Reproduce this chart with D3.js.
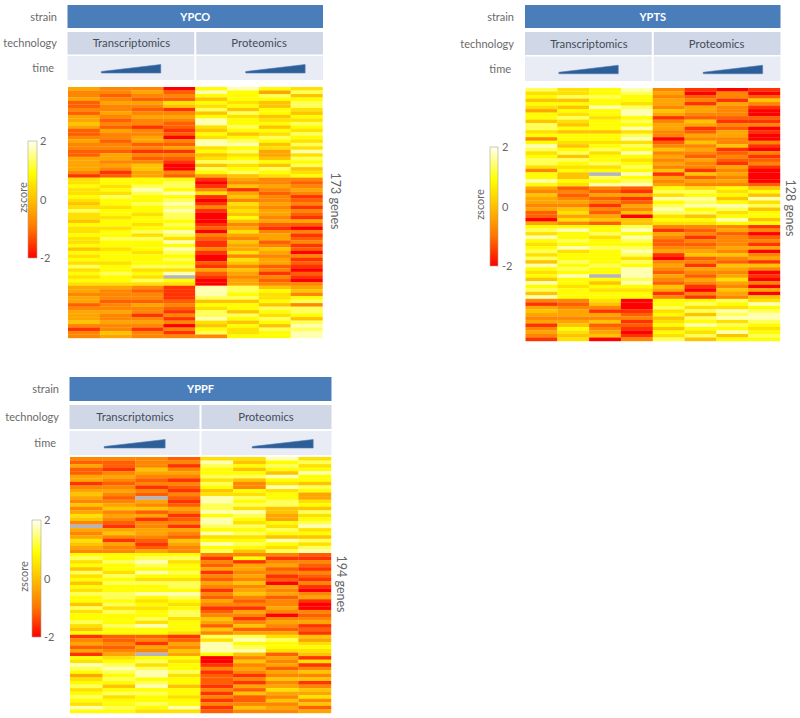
<!DOCTYPE html>
<html>
<head>
<meta charset="utf-8">
<script src="https://cdn.jsdelivr.net/npm/d3@7"></script>
<style>
  html, body { margin: 0; padding: 0; background: #fff; }
  text { font-family: Lato, "Noto Sans", sans-serif; }
</style>
</head>
<body>
<svg id="chart" width="800" height="718"></svg>
<script>
// z-score level of each visible band, 0 (z = -2) up to 9 (palest), null = missing (grey)
const ypcoT1 = [4,3,3,4,2,2,3,2,4,4,5,4,2,2,3,4,3,3,2,2,4,4,4,4,3,1,6,6,7,6,6,7,6,5,6,8,6,6,5,7,6,6,7,6,6,7,5,7,6,7,6,8,6,7,6,7,6,4,4,3,4,4,2,3,4,4,4,5,3,1,3,3];
const ypcoT2 = [3,3,2,3,4,3,3,4,3,2,3,2,4,3,3,2,3,3,2,4,4,3,4,3,1,2,7,7,6,7,6,8,7,7,6,7,7,6,7,7,6,7,7,8,7,7,6,7,7,7,6,7,7,8,7,7,6,4,3,3,3,2,3,3,4,3,3,4,3,3,5,4];
const ypcoT3 = [3,4,3,2,4,3,2,3,4,3,3,1,3,3,4,4,2,3,1,3,2,3,5,5,4,4,7,7,8,9,8,7,7,8,7,7,6,7,7,6,7,8,6,8,7,7,7,6,7,7,7,8,6,7,6,8,6,3,2,3,3,2,4,3,3,1,3,4,3,1,3,3];
const ypcoT4 = [0,2,3,2,6,5,1,3,4,3,2,2,1,2,0,3,2,4,1,3,2,1,0,0,3,2,7,8,8,7,9,7,8,9,8,9,8,8,7,8,7,9,8,6,9,7,9,8,7,8,7,8,6,9,null,7,6,1,1,1,1,2,3,2,1,3,1,3,0,3,1,3];
const ypcoP1 = [7,9,7,5,7,6,8,5,7,9,9,6,5,7,6,9,9,6,7,5,6,8,5,8,7,4,1,0,1,3,6,1,0,1,3,1,0,0,0,1,2,0,3,2,1,1,3,1,0,0,2,1,4,2,1,0,0,9,9,9,8,5,7,6,8,8,9,6,5,7,8,3];
const ypcoP2 = [9,7,7,7,6,7,5,8,6,7,7,8,7,5,7,8,9,7,8,6,7,8,6,7,8,5,4,3,5,1,4,5,3,6,5,6,5,7,5,3,4,6,4,3,5,4,4,6,3,6,5,3,5,4,3,4,4,8,8,7,8,5,7,7,5,8,7,5,7,6,6,7];
const ypcoP3 = [7,4,8,7,5,5,7,7,5,6,7,5,7,6,8,7,5,6,4,4,5,7,5,8,7,6,3,3,4,3,2,3,3,4,3,4,4,3,4,2,1,3,4,4,2,3,5,4,3,4,4,2,3,1,3,2,3,5,7,6,6,7,5,8,7,6,8,7,5,8,7,7];
const ypcoP4 = [6,8,5,7,8,8,6,5,7,6,8,7,6,8,7,6,8,6,9,6,8,7,8,5,6,7,3,2,3,4,3,1,2,3,1,3,2,1,4,2,0,3,1,2,3,1,2,0,3,1,2,1,0,2,1,0,3,4,5,3,7,8,3,8,8,7,5,8,9,8,9,9];

const yptsT1 = [8,6,7,5,7,6,4,7,7,5,8,8,6,7,3,7,9,8,6,7,8,8,6,3,7,7,9,7,4,3,5,4,4,3,4,2,2,0,4,7,8,6,9,7,6,7,8,6,8,5,9,7,6,7,5,9,7,8,5,9,3,1,4,5,4,3,4,1,3,4,3,1];
const yptsT2 = [6,6,8,5,7,5,7,6,8,6,5,7,5,7,7,6,5,7,8,5,8,7,6,7,5,5,7,6,2,3,2,3,4,3,5,6,4,6,3,7,9,7,7,8,7,9,6,7,7,8,7,8,7,9,7,7,6,7,7,7,3,2,3,4,4,3,4,5,7,6,5,6];
const yptsT3 = [7,7,8,7,7,9,7,7,6,7,7,7,5,7,7,6,7,8,6,7,7,8,6,7,null,8,7,9,3,2,4,2,3,1,3,2,4,5,2,7,7,8,6,7,7,8,7,7,7,7,8,7,7,null,7,5,7,6,7,7,6,5,3,1,4,3,5,2,3,4,5,0];
const yptsT4 = [9,8,7,7,6,8,9,9,7,8,7,9,6,8,9,6,8,7,9,7,6,7,8,7,9,7,8,9,2,1,4,1,2,4,3,5,0,5,5,8,9,7,9,8,7,8,9,8,6,8,7,9,9,9,8,9,7,6,7,7,0,0,0,1,2,3,1,2,1,0,1,3];
const yptsP1 = [3,4,3,4,4,3,5,4,1,3,4,4,3,3,0,2,3,5,3,4,3,4,3,5,1,4,3,4,7,8,6,9,7,8,9,8,6,7,6,3,1,4,3,2,2,3,4,1,0,3,4,3,2,4,3,2,5,4,1,3,7,7,8,6,7,5,6,7,5,7,6,8];
const yptsP2 = [1,0,2,3,1,4,4,3,2,5,4,1,2,4,3,5,3,4,3,2,4,3,3,1,5,2,4,3,6,8,7,9,8,9,7,8,5,7,6,3,2,3,1,3,2,3,4,5,2,3,1,4,3,2,4,3,1,0,3,1,7,8,6,8,5,8,7,9,7,6,8,5];
const yptsP3 = [0,3,3,1,4,3,3,3,2,1,3,2,4,4,3,3,5,1,2,3,2,1,4,3,4,3,4,3,7,6,7,5,7,9,8,6,7,9,7,3,4,2,3,3,3,4,3,5,3,2,5,4,3,4,6,4,3,5,4,3,8,7,6,9,8,9,6,8,7,9,5,7];
const yptsP4 = [1,0,2,5,3,1,0,0,2,1,3,0,1,0,0,3,1,0,3,1,2,3,1,0,0,0,0,2,5,7,5,9,6,8,5,7,7,5,7,1,3,0,2,3,1,4,0,3,4,1,5,3,0,1,0,3,0,4,0,5,6,9,7,8,9,9,8,7,6,7,8,7];

const yppfT1 = [3,2,4,2,2,4,4,1,3,4,5,4,3,5,3,4,6,5,3,null,4,3,4,6,5,4,3,7,8,6,7,5,8,6,7,5,7,6,8,7,7,5,8,6,7,7,8,6,5,7,1,3,4,2,4,1,7,6,9,8,7,4,6,7,8,6,7,8,7,6,9,7];
const yppfT2 = [3,2,2,1,3,4,3,2,3,4,3,2,3,4,5,3,4,3,2,1,4,5,3,1,4,3,3,7,7,8,7,7,6,8,7,8,7,7,8,8,7,8,6,8,7,7,7,8,7,7,2,2,3,2,3,4,6,7,8,9,8,7,8,7,5,7,8,6,7,7,8,7];
const yppfT3 = [3,3,3,5,4,3,2,3,1,3,2,null,4,3,5,2,4,1,3,3,4,4,3,2,1,2,4,7,8,9,8,7,9,7,6,8,7,7,9,7,6,7,6,7,7,8,6,9,7,7,2,3,1,4,3,null,7,8,6,8,9,9,7,8,9,7,8,7,7,8,7,6];
const yppfT4 = [2,3,1,3,4,3,1,3,2,1,3,2,1,2,4,3,1,2,3,1,4,3,2,5,4,3,3,7,8,6,7,7,8,7,6,8,8,7,9,8,7,6,7,8,8,6,7,7,7,6,1,2,4,3,5,4,7,6,7,7,8,6,7,7,5,7,7,6,7,7,9,6];
const yppfP1 = [6,9,8,7,7,8,6,8,7,5,6,9,9,8,8,9,7,9,9,8,7,9,6,7,9,7,8,3,1,3,2,4,1,3,2,4,3,1,3,2,4,3,1,2,3,5,4,2,5,3,8,6,9,9,9,7,0,0,1,3,1,2,2,2,1,3,1,3,1,3,1,2];
const yppfP2 = [6,5,7,5,7,8,5,3,3,7,6,8,7,8,6,9,8,7,6,8,7,8,6,7,8,7,5,3,7,1,4,4,3,4,3,5,3,4,5,3,2,3,1,4,3,1,3,5,2,4,8,9,7,8,9,5,3,5,3,4,3,1,3,1,4,2,5,2,2,3,5,3];
const yppfP3 = [9,7,8,7,5,9,7,6,9,6,7,7,8,8,5,5,4,4,7,6,8,7,5,9,7,6,8,3,1,3,4,2,3,1,2,0,4,3,4,2,3,3,4,3,0,3,4,3,2,4,6,8,7,7,6,2,4,3,4,2,4,3,5,3,4,6,4,3,5,3,4,3];
const yppfP4 = [6,8,6,7,9,7,7,5,8,7,4,4,6,7,5,8,6,7,8,9,6,7,5,8,6,8,9,2,1,3,2,1,3,2,1,3,1,0,3,4,1,0,0,3,2,3,4,1,2,1,5,4,6,7,6,5,1,6,1,3,5,3,5,1,3,5,4,6,3,5,2,4];

const technologies = ['Transcriptomics', 'Proteomics'];
const rowNames = ['strain', 'technology', 'time'];
const zTicks = [2, 0, -2];
const zStops = [-2, -1, 0, 0.9, 2];
const zColors = ['#ff0000', '#ff7400', '#ffc000', '#ffff00', '#fffff2'];

const panels = [
  {
    name: 'YPCO', genes: '173 genes', cols: [ypcoT1, ypcoT2, ypcoT3, ypcoT4, ypcoP1, ypcoP2, ypcoP3, ypcoP4],
    x0: 67.5, x1: 323, y: [5, 28, 32, 54.5, 56, 80, 87, 338],
    bar: [28, 37, 141, 258], zx: 23, genesX: 335, genesY: 201, rowLabelX: 57
  },
  {
    name: 'YPTS', genes: '128 genes', cols: [yptsT1, yptsT2, yptsT3, yptsT4, yptsP1, yptsP2, yptsP3, yptsP4],
    x0: 525, x1: 780.5, y: [5, 28, 32, 55, 56.5, 81, 88, 341],
    bar: [490, 498, 147, 266], zx: 480, genesX: 790, genesY: 208, rowLabelX: 514
  },
  {
    name: 'YPPF', genes: '194 genes', cols: [yppfT1, yppfT2, yppfT3, yppfT4, yppfP1, yppfP2, yppfP3, yppfP4],
    x0: 69.5, x1: 331.5, y: [377, 401, 405, 429, 431, 455, 457, 713],
    bar: [32, 41, 520, 637], zx: 24, genesX: 341, genesY: 584, rowLabelX: 59
  }
];

const svg = d3.select('#chart');
const levelToZ = d3.scaleLinear().domain([0, 9]).range([-2, 1.7]);
const color = d3.scaleLinear().domain(zStops).range(zColors);

const defs = svg.append('defs');
const gradient = defs.append('linearGradient')
  .attr('id', 'zscoreGradient')
  .attr('x1', 0).attr('x2', 0).attr('y1', 1).attr('y2', 0);
const gradientPos = d3.scaleLinear().domain([-2, 2]).range(['0%', '100%']);
gradient.selectAll('stop')
  .data(zStops)
  .enter()
  .append('stop')
  .attr('offset', d => gradientPos(d))
  .attr('stop-color', d => color(d));

// the source is a soft, upscaled image
defs.append('filter')
  .attr('id', 'soften')
  .append('feGaussianBlur')
  .attr('stdDeviation', '0.3 0.5');

const drawPanel = (panel) => {
  const g = svg.append('g');
  const [y0, y1, y2, y3, y4, y5, y6, y7] = panel.y;

  const techScale = d3.scaleBand().domain(technologies).range([panel.x0, panel.x1]);
  const colScale = d3.scaleBand().domain(d3.range(8)).range([panel.x0 + 0.5, panel.x1 - 0.5]);

  g.append('rect')
    .attr('x', panel.x0).attr('y', y0)
    .attr('width', panel.x1 - panel.x0).attr('height', y1 - y0)
    .attr('fill', '#4a7ebb');
  g.append('text')
    .text(panel.name)
    .attr('x', (panel.x0 + panel.x1) / 2).attr('y', (y0 + y1) / 2 + 4)
    .attr('text-anchor', 'middle')
    .attr('font-size', 11).attr('font-weight', 700)
    .attr('fill', '#fff');

  const tech = g.selectAll('.tech')
    .data(technologies)
    .enter()
    .append('g')
    .attr('class', 'tech');
  tech.append('rect')
    .attr('x', d => techScale(d) + (d === technologies[1] ? 1 : 0))
    .attr('y', y2)
    .attr('width', techScale.bandwidth() - 1)
    .attr('height', y3 - y2)
    .attr('fill', '#d0d8e8');
  tech.append('text')
    .text(d => d)
    .attr('x', d => techScale(d) + techScale.bandwidth() / 2)
    .attr('y', (y2 + y3) / 2 + 4)
    .attr('text-anchor', 'middle')
    .attr('font-size', 11.3)
    .attr('fill', '#444c57');

  tech.append('rect')
    .attr('x', d => techScale(d) + (d === technologies[1] ? 1 : 0))
    .attr('y', y4)
    .attr('width', techScale.bandwidth() - 1)
    .attr('height', y5 - y4)
    .attr('fill', '#e9ecf4');

  // time wedge, thin on the left and tall on the right
  tech.append('path')
    .attr('d', (d, i) => {
      const bw = techScale.bandwidth();
      const left = techScale(d) + (i === 0 ? bw * 0.265 : bw * 0.395);
      const w = bw * 0.465;
      const mid = (y4 + y5) / 2;
      return d3.line()([[left, mid + 5], [left, mid + 3.5], [left + w, mid - 3.5], [left + w, mid + 5]]) + 'Z';
    })
    .attr('fill', '#2e5e97')
    .attr('stroke', '#4a7ebb')
    .attr('stroke-width', 0.6);

  g.selectAll('.rowName')
    .data(rowNames)
    .enter()
    .append('text')
    .attr('class', 'rowName')
    .text(d => d)
    .attr('x', (d, i) => panel.rowLabelX - (i === 2 ? 3 : 0))
    .attr('y', (d, i) => (panel.y[i * 2] + panel.y[i * 2 + 1]) / 2 + 4)
    .attr('text-anchor', 'end')
    .attr('font-size', 11)
    .attr('fill', '#6a6a6a');

  // heatmap, one group per column
  const heatGroup = g.append('g').attr('filter', 'url(#soften)');
  const heat = heatGroup.selectAll('.col')
    .data(panel.cols)
    .enter()
    .append('g')
    .attr('class', 'col')
    .attr('transform', (d, i) => 'translate(' + colScale(i) + ',0)');
  heat.selectAll('rect')
    .data(d => d.map((v, i) => ({ v: v, row: i, n: d.length })))
    .enter()
    .append('rect')
    .attr('y', d => d3.scaleBand().domain(d3.range(d.n)).range([y6, y7])(d.row))
    .attr('width', colScale.bandwidth() + 0.2)
    .attr('height', (y7 - y6) / panel.cols[0].length + 0.2)
    .attr('fill', d => d.v === null ? '#b4b4be' : color(levelToZ(d.v)));

  // colour bar
  const [bx0, bx1, by0, by1] = panel.bar;
  const barY = d3.scaleLinear().domain([2, -2]).range([by0, by1]);
  g.append('rect')
    .attr('x', bx0).attr('y', by0)
    .attr('width', bx1 - bx0).attr('height', by1 - by0)
    .attr('fill', 'url(#zscoreGradient)')
    .attr('stroke', '#a8a890')
    .attr('stroke-width', 0.6);
  g.selectAll('.zTick')
    .data(zTicks)
    .enter()
    .append('text')
    .attr('class', 'zTick')
    .text(d => d)
    .attr('x', bx1 + (panel.name === 'YPTS' ? 4 : 3))
    .attr('y', d => barY(d) + 4)
    .attr('font-size', 11)
    .attr('fill', '#666');
  g.append('text')
    .text('zscore')
    .attr('transform', 'translate(' + (panel.zx + 4) + ',' + (barY(0) - 2) + ') rotate(-90)')
    .attr('text-anchor', 'middle')
    .attr('font-size', 11)
    .attr('fill', '#666');

  g.append('text')
    .text(panel.genes)
    .attr('transform', 'translate(' + (panel.genesX - 4) + ',' + panel.genesY + ') rotate(90)')
    .attr('text-anchor', 'middle')
    .attr('font-size', 12.5)
    .attr('fill', '#666');
};

panels.forEach(drawPanel);
</script>
</body>
</html>
